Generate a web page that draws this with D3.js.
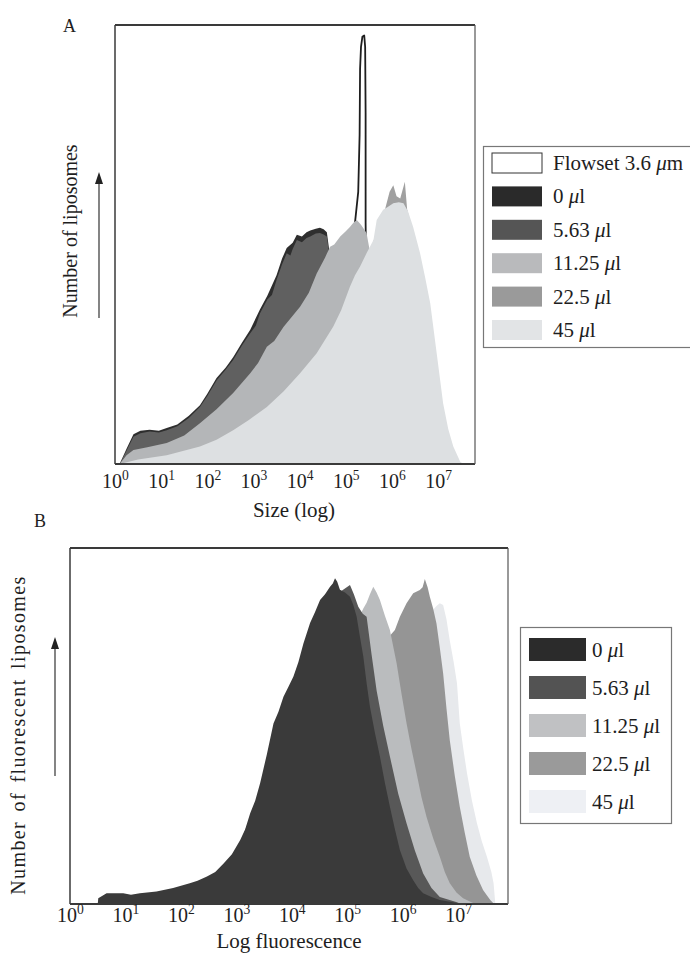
<!DOCTYPE html>
<html>
<head>
<meta charset="utf-8">
<script src="https://cdn.jsdelivr.net/npm/d3@7"></script>
<style>
html,body{margin:0;padding:0;background:#fff;}
svg{display:block;}
text{font-family:"Liberation Serif","Times New Roman",serif;fill:#1e1e1e;}
</style>
</head>
<body>
<svg id="chart" width="690" height="956"></svg>
<script>
// values: [log10 of x, relative count 0..100]
var tickExps = [0, 1, 2, 3, 4, 5, 6, 7];
var doseLabels = ["0", "5.63", "11.25", "22.5", "45"];

// panel A - size
var sizeFlowset = [[5.15,0],[5.17,45],[5.20,55],[5.27,62],[5.30,75],[5.31,90],[5.33,95],[5.36,97.3],[5.40,97.6],[5.42,95],[5.43,80],[5.43,55],[5.44,45],[5.46,0]];
var size0 = [[0.10,0],[0.25,3.5],[0.40,6.8],[0.55,7.6],[0.75,7.8],[0.95,7.6],[1.12,8.2],[1.35,9],[1.6,11],[1.84,13.4],[2.0,16],[2.2,19.6],[2.4,22],[2.56,24.3],[2.75,27.6],[2.93,30.6],[3.14,35.2],[3.3,38.3],[3.5,43],[3.62,46.8],[3.72,49.2],[3.85,50.4],[3.94,52.2],[4.05,51.8],[4.15,52.8],[4.23,53.2],[4.35,53.6],[4.44,53.8],[4.52,53.5],[4.59,52.8],[4.65,48],[4.8,39],[5.0,26],[5.3,10],[5.6,3],[6.0,0]];
var size563 = [[0.10,0],[0.25,3],[0.40,6.2],[0.55,7],[0.75,7.4],[0.95,7.2],[1.12,7.7],[1.35,8.6],[1.6,10.5],[1.84,13],[2.0,15.5],[2.2,19],[2.4,21.5],[2.56,23.7],[2.75,27],[2.93,29.8],[3.05,31.5],[3.14,34.3],[3.3,37.5],[3.4,38.5],[3.5,41.9],[3.62,45.5],[3.72,48],[3.8,47.5],[3.85,49],[3.94,51],[4.05,50.5],[4.15,51.5],[4.23,51.8],[4.35,52.5],[4.44,52.6],[4.52,52.3],[4.59,51.8],[4.65,47],[4.8,38],[5.0,25],[5.3,10],[5.6,3],[6.0,0]];
var size1125 = [[0.10,0],[0.25,2],[0.40,3.2],[0.7,3.8],[1.12,4.8],[1.5,6.5],[1.84,9.3],[2.2,12.5],[2.56,16.2],[2.93,20.7],[3.1,23],[3.29,26.7],[3.45,28],[3.65,31.2],[4.01,35.8],[4.2,39],[4.37,43.4],[4.55,47],[4.66,49.5],[4.75,50],[4.88,51.8],[5.0,53],[5.09,54],[5.17,55],[5.24,55.6],[5.33,54.5],[5.45,52.6],[5.53,48],[5.6,42],[5.8,30],[6.0,20],[6.5,5],[7.0,0]];
var size225 = [[0.10,0],[1.0,1.5],[2.0,4],[3.0,10],[4.0,19],[4.7,29],[5.1,38],[5.45,46],[5.7,54],[5.85,58],[5.95,62],[6.03,63.5],[6.1,61],[6.18,60.5],[6.28,64.3],[6.33,58],[6.45,53],[6.8,35],[7.1,12],[7.4,0]];
var size45 = [[0.10,0],[0.5,1],[1.12,2],[1.84,4],[2.2,5.5],[2.56,7.7],[2.9,10],[3.29,13],[3.65,16.5],[4.01,20.7],[4.37,25.2],[4.73,31.3],[4.9,35],[5.09,40.4],[5.2,43],[5.31,45],[5.45,48],[5.6,51],[5.67,55.6],[5.81,57.9],[5.9,58.5],[6.03,59.4],[6.15,59.6],[6.25,59.4],[6.35,57.5],[6.46,54],[6.61,48],[6.72,42.5],[6.83,36.6],[6.97,25.2],[7.11,13.8],[7.22,8],[7.33,4],[7.48,0.5],[7.55,0]];

// panel B - fluorescence
var fluor0 = [[0.5,0],[0.51,1.6],[0.66,3.0],[0.96,3.0],[1.1,2.6],[1.26,3],[1.56,3.5],[1.86,4.5],[2.16,5.8],[2.3,6.5],[2.47,7.7],[2.62,9],[2.77,11.4],[2.92,14],[3.07,18],[3.16,21],[3.25,25.5],[3.34,29],[3.43,34],[3.55,42],[3.67,50.7],[3.76,54],[3.85,58.2],[3.94,61],[4.03,63.9],[4.12,68],[4.21,73.2],[4.33,78.9],[4.42,82],[4.51,85.4],[4.6,87],[4.69,89.1],[4.74,90],[4.78,91.5],[4.82,90.5],[4.87,88.2],[4.96,87.5],[5.05,86.3],[5.11,84],[5.17,80.7],[5.23,75],[5.29,69.5],[5.35,62],[5.41,55.4],[5.5,48],[5.59,41.4],[5.68,34],[5.77,27.3],[5.86,21],[5.95,15.2],[6.07,10],[6.19,6.7],[6.28,4.5],[6.37,3],[6.52,2],[6.67,1.1],[6.98,0.3],[7.0,0]];
var fluor563 = [[0.5,0],[0.55,1],[0.66,2.5],[1.26,2.5],[1.86,4],[2.47,7],[2.77,10.5],[3.07,17],[3.43,32],[3.85,56],[4.21,71],[4.51,84],[4.78,89],[4.9,88],[5.05,89.6],[5.12,87],[5.2,83.5],[5.28,81.5],[5.35,80.7],[5.44,70],[5.53,60],[5.65,50],[5.77,41.4],[5.92,31],[6.07,22.7],[6.22,15],[6.37,8.6],[6.52,4.5],[6.67,2],[6.98,0.5],[7.05,0]];
var fluor1125 = [[3,0],[4,15],[4.6,45],[5.0,70],[5.2,80],[5.29,83],[5.35,84.6],[5.41,87],[5.47,89.1],[5.53,87.5],[5.59,85.4],[5.68,81],[5.77,77],[5.89,67.7],[5.98,59],[6.07,50.8],[6.16,43.5],[6.25,36.8],[6.34,30],[6.43,24.5],[6.55,18.5],[6.67,13.3],[6.76,9],[6.85,5.8],[6.97,3.2],[7.09,1.6],[7.27,0.3],[7.3,0]];
var fluor225 = [[3,0],[4.5,20],[5.3,55],[5.6,70],[5.75,75],[5.86,77],[5.95,80.7],[6.07,84.5],[6.19,87.3],[6.31,88.2],[6.36,89],[6.40,91.3],[6.45,89],[6.49,86.3],[6.55,83],[6.61,78.8],[6.67,72],[6.73,64.8],[6.79,55],[6.85,46],[6.94,36],[7.03,27.3],[7.12,20],[7.21,13.3],[7.33,8],[7.45,3.9],[7.58,1.1],[7.65,0]];
var fluor45 = [[2.5,0],[4,5],[5,30],[5.6,60],[6.1,75],[6.4,80],[6.61,83.7],[6.67,84.5],[6.73,84],[6.79,80],[6.85,74],[6.92,68],[6.98,62],[7.03,50.8],[7.1,43],[7.16,36.8],[7.25,29],[7.34,22.7],[7.43,17.5],[7.52,13.3],[7.6,9],[7.64,5.8],[7.67,0.3],[7.68,0]];

var colorsA = ["#2e2e2e", "#606060", "#b4b6b8", "#a0a0a0", "#dde0e2"];
var colorsB = ["#3a3a3a", "#585858", "#babcbe", "#959595", "#e7e9ec"];
var swatchA = ["#2a2a2a", "#555555", "#b9babc", "#9a9a9a", "#e2e4e6"];
var swatchB = ["#2b2b2b", "#535353", "#c0c1c3", "#9a9a9a", "#eef0f4"];

var svg = d3.select("#chart");

function drawFrame(g, L, T, R, B){
  g.append("line").attr("x1", L).attr("x2", R).attr("y1", T).attr("y2", T).attr("stroke", "#3a3a3a").attr("stroke-width", 2.2);
  g.append("line").attr("x1", L).attr("x2", L).attr("y1", T).attr("y2", B).attr("stroke", "#3a3a3a").attr("stroke-width", 1.5);
  g.append("line").attr("x1", L).attr("x2", R).attr("y1", B).attr("y2", B).attr("stroke", "#3a3a3a").attr("stroke-width", 1.8);
  g.append("line").attr("x1", R).attr("x2", R).attr("y1", T).attr("y2", B).attr("stroke", "#555").attr("stroke-width", 1.2);
}

function xAxis(g, x, yPos, size){
  var ax = d3.axisBottom(x).tickValues(tickExps.map(function(e){ return Math.pow(10, e); })).tickSize(0).tickPadding(0).tickFormat("");
  var a = g.append("g").attr("transform", "translate(0," + yPos + ")").call(ax);
  a.select(".domain").remove();
  a.attr("font-family", null).attr("font-size", null);
  a.selectAll(".tick text").each(function(d, i){
    var t = d3.select(this).attr("y", 0).attr("dy", 0).attr("font-size", size).attr("fill", "#1e1e1e");
    t.append("tspan").text("10");
    t.append("tspan").attr("dy", -size * 0.42).attr("font-size", size * 0.68).text(tickExps[i]);
  });
}

function arrowUp(g, x, y1, y2){
  g.append("line").attr("x1", x).attr("x2", x).attr("y1", y1).attr("y2", y2 + 8).attr("stroke", "#333").attr("stroke-width", 1.2);
  g.append("path").attr("d", "M" + x + "," + y2 + "L" + (x - 4) + "," + (y2 + 12) + "L" + (x + 4) + "," + (y2 + 12) + "Z").attr("fill", "#222");
}

function doseText(t, label){
  t.append("tspan").text(label + " ");
  t.append("tspan").attr("font-style", "italic").text("\u03bc");
  t.append("tspan").text("l");
}

// ---------- panel A ----------
var gA = svg.append("g");
var xA = d3.scaleLog().domain([1, Math.pow(10, 7.8)]).range([115, 475]);
var yA = d3.scaleLinear().domain([0, 100]).range([464, 25]);
var areaA = d3.area().x(function(d){ return xA(Math.pow(10, d[0])); }).y0(yA(0)).y1(function(d){ return yA(d[1]); });

gA.append("path").datum(sizeFlowset).attr("d", areaA).attr("fill", "#fff").attr("stroke", "#1e1e1e").attr("stroke-width", 1.8).attr("stroke-linejoin", "round");
var seriesA = [size0, size563, size1125, size225, size45];
gA.selectAll("path.s").data(seriesA).enter().append("path").attr("class", "s")
  .attr("d", areaA).attr("fill", function(d, i){ return colorsA[i]; });

drawFrame(gA, 115, 25, 475, 464);
xAxis(gA, xA, 488, 20);
gA.append("text").attr("x", 294).attr("y", 517).attr("text-anchor", "middle").attr("font-size", 21).text("Size (log)");
gA.append("text").attr("x", 63).attr("y", 32).attr("font-size", 18).text("A");
gA.append("text").attr("transform", "translate(77,231) rotate(-90)").attr("text-anchor", "middle").attr("font-size", 20).text("Number of liposomes");
arrowUp(gA, 99, 318, 172);

// legend A
var legA = gA.append("g");
legA.append("rect").attr("x", 483.5).attr("y", 146.5).attr("width", 230).attr("height", 201).attr("fill", "#fff").attr("stroke", "#777").attr("stroke-width", 1.2);
var rowsA = ["Flowset"].concat(doseLabels);
legA.selectAll("rect.sw").data(rowsA).enter().append("rect").attr("class", "sw")
  .attr("x", 492).attr("y", function(d, i){ return 153 + i * 33.4; }).attr("width", 50).attr("height", 20)
  .attr("fill", function(d, i){ return i === 0 ? "#fff" : swatchA[i - 1]; })
  .attr("stroke", function(d, i){ return i === 0 ? "#333" : "none"; }).attr("stroke-width", 1);
legA.selectAll("text.lb").data(rowsA).enter().append("text").attr("class", "lb")
  .attr("x", 553).attr("y", function(d, i){ return 170 + i * 33.4; }).attr("font-size", 21)
  .each(function(d, i){
    var t = d3.select(this);
    if (i === 0) { t.append("tspan").text("Flowset 3.6 "); t.append("tspan").attr("font-style", "italic").text("\u03bc"); t.append("tspan").text("m"); }
    else doseText(t, d);
  });

// ---------- panel B ----------
var gB = svg.append("g");
var xB = d3.scaleLog().domain([1, Math.pow(10, 7.9)]).range([70, 508]);
var yB = d3.scaleLinear().domain([0, 100]).range([904, 548]);
var areaB = d3.area().x(function(d){ return xB(Math.pow(10, d[0])); }).y0(yB(0)).y1(function(d){ return yB(d[1]); });

var seriesB = [fluor0, fluor563, fluor1125, fluor225, fluor45];
// lightest drawn first, 0 ul on top
var orderB = [4, 3, 2, 1, 0];
gB.selectAll("path.s").data(orderB).enter().append("path").attr("class", "s")
  .attr("d", function(k){ return areaB(seriesB[k]); }).attr("fill", function(k){ return colorsB[k]; });

drawFrame(gB, 70, 548, 508, 904);
xAxis(gB, xB, 922, 20);
gB.append("text").attr("x", 289).attr("y", 948).attr("text-anchor", "middle").attr("font-size", 21).text("Log fluorescence");
gB.append("text").attr("x", 34).attr("y", 527).attr("font-size", 18).text("B");
gB.append("text").attr("transform", "translate(25,735) rotate(-90)").attr("text-anchor", "middle").attr("font-size", 20)
  .attr("letter-spacing", 1.4).attr("word-spacing", 3).text("Number of fluorescent liposomes");
arrowUp(gB, 55, 776, 637);

// legend B
var legB = gB.append("g");
legB.append("rect").attr("x", 520.5).attr("y", 627.5).attr("width", 151).attr("height", 196).attr("fill", "#fff").attr("stroke", "#777").attr("stroke-width", 1.2);
legB.selectAll("rect.sw").data(doseLabels).enter().append("rect").attr("class", "sw")
  .attr("x", 529).attr("y", function(d, i){ return 638 + i * 38; }).attr("width", 57).attr("height", 23)
  .attr("fill", function(d, i){ return swatchB[i]; });
legB.selectAll("text.lb").data(doseLabels).enter().append("text").attr("class", "lb")
  .attr("x", 592).attr("y", function(d, i){ return 657 + i * 38; }).attr("font-size", 21)
  .each(function(d){ doseText(d3.select(this), d); });
</script>
</body>
</html>
